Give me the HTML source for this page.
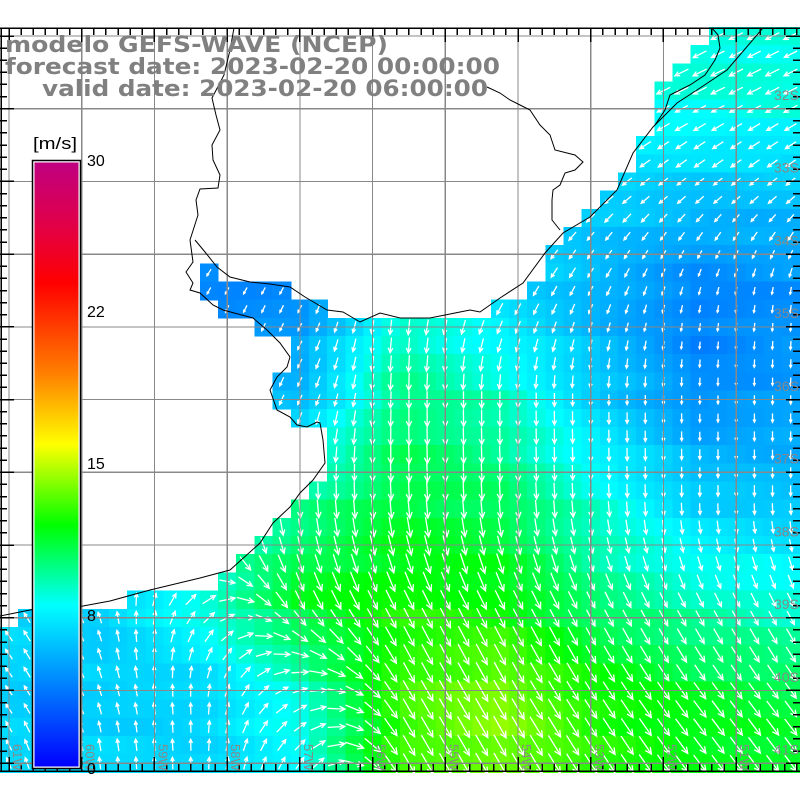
<!DOCTYPE html>
<html><head><meta charset="utf-8"><style>
html,body{margin:0;padding:0;background:#fff;}
svg{display:block}
</style></head><body>
<svg id="s" width="800" height="800" xmlns="http://www.w3.org/2000/svg">
<rect width="800" height="800" fill="#fff"/>
<g id="cells" shape-rendering="crispEdges"></g>
<g id="arrows" stroke="#fff" stroke-width="1.3" fill="none"></g>
<g id="grid" stroke="#888" stroke-width="1.2" shape-rendering="crispEdges"></g>
<g id="coast" stroke="#000" stroke-width="1" fill="none">
<polyline points="234,28 230,50 224,75 212,98 216,115 220,130 212,145 213,160 220,175 218,188 200,189 196,200 198,215 190,240 193,262 186,272 193,283 190,290 200,293 213,305 223,310 253,318 267,330 280,343 290,357 287,367 277,377 270,390 277,410 290,417 297,425 307,427 317,422 320,423 323,440 325,463 313,480 300,493 290,507 273,523 260,543 230,570 200,578 150,590 110,601 83,606 40,608 20,612 10,614 0,616"/>
<polyline points="195,240 205,252 217,267 230,277 250,282 270,284 290,287 305,297 327,310 343,312 360,322 380,313 400,318 430,318 450,314 470,310 480,312 500,298 523,283 545,253 563,233 590,217 617,190 633,153 653,127 677,103 700,88 727,70 763,28"/>
<polyline points="487,87 500,93 510,100 520,105 530,110 540,125 550,135 555,150 575,155 583,162 575,170 565,173 560,185 553,190 552,200 552,220 560,230"/>
<polyline points="655,125 665,110 670,95 690,85 705,75 715,60 720,48 718,35 712,28"/>
</g>
<g id="frame" stroke="#000" stroke-width="1.5" shape-rendering="crispEdges"></g>
<g id="labels" fill="#888" font-family="Liberation Sans, sans-serif" font-size="13"></g>
<defs>
<linearGradient id="cb" x1="0" y1="1" x2="0" y2="0">
<stop offset="0" stop-color="#0000ff"/>
<stop offset="0.2667" stop-color="#00ffff"/>
<stop offset="0.4" stop-color="#00ff00"/>
<stop offset="0.5333" stop-color="#ffff00"/>
<stop offset="0.65" stop-color="#ff8000"/>
<stop offset="0.8" stop-color="#ff0000"/>
<stop offset="0.9" stop-color="#e0004a"/>
<stop offset="1" stop-color="#c00080"/>
</linearGradient>
</defs>
<rect x="32.5" y="160.5" width="48" height="608" fill="#fff" stroke="#000" stroke-width="1.5"/>
<rect x="34.5" y="162.5" width="44" height="604" fill="url(#cb)"/>
<g font-family="Liberation Sans, sans-serif" font-size="16" fill="#000">
<text x="33" y="149" font-size="17" textLength="44" lengthAdjust="spacingAndGlyphs">[m/s]</text>
<text x="87" y="166">30</text>
<text x="87" y="317">22</text>
<text x="87" y="469">15</text>
<text x="87" y="621">8</text>
<text x="87" y="774">0</text>
</g>
<g font-family="DejaVu Sans, sans-serif" font-weight="bold" font-size="22" fill="#808080">
<text x="5" y="52" textLength="383" lengthAdjust="spacingAndGlyphs">modelo GEFS-WAVE (NCEP)</text>
<text x="5" y="74" textLength="495" lengthAdjust="spacingAndGlyphs">forecast date: 2023-02-20 00:00:00</text>
<text x="42" y="96" textLength="446" lengthAdjust="spacingAndGlyphs">valid date: 2023-02-20 06:00:00</text>
</g>
</svg>
<script>
(function(){
var NS="http://www.w3.org/2000/svg";
function el(p,t,a){var e=document.createElementNS(NS,t);for(var k in a)e.setAttribute(k,a[k]);p.appendChild(e);return e;}
var S=[
[8,8,8,8,8,8,8.5,8.5,8.5],
[8,8,8,8,8,8,8.5,8.5,8.5],
[6,6,6,6,6,7,6.5,6,6],
[4,4,4,4.5,8.5,7,5.5,4,4.5],
[6,6,6,6,10,9,6.5,4.5,5],
[8,8,8,9.5,11,10.5,8.5,6.5,6],
[7,6.5,8.5,11.5,12.3,12,10,9,8.5],
[6.5,6.5,6.5,8.5,13,14.2,12.5,11.5,11],
[7,7,7,7.5,13,13.5,12.5,12,11.5]];
function row(a){var r=[];for(var i=0;i<9;i++)r.push(a[i]||a[a.length-1]);return r;}
var A=[-0.9,0.45],B=[-0.75,0.65];
var D=[
row([A,A,A,A,A,A,A,A,A]),
row([A,A,A,A,A,A,A,A,A]),
row([B,B,B,B,B,B,B,B,B]),
[[-0.45,0.9],[-0.45,0.9],[-0.45,0.9],[-0.45,0.9],[-0.1,1],[-0.5,0.85],[-0.4,0.9],[-0.2,1],[-0.1,1]],
[[-0.4,0.9],[-0.4,0.9],[-0.4,0.9],[-0.4,0.9],[0,1],[0,1],[0,1],[0,1],[0,1]],
[[0.05,1],[0.05,1],[0.05,1],[0.05,1],[0.05,1],[0.05,1],[0.05,1],[0,1],[0,1]],
[[-0.6,-0.8],[-0.3,-0.95],[0.6,-0.5],[0.45,0.9],[0.45,0.9],[0.45,0.9],[0.45,0.9],[0.45,0.9],[0.45,0.9]],
[[-0.6,-0.8],[-0.3,-0.95],[0,-1],[0.9,-0.4],[0.5,0.87],[0.5,0.87],[0.55,0.85],[0.6,0.8],[0.6,0.8]],
[[-0.3,-0.95],[0,-1],[0,-1],[0.3,-0.95],[0.5,0.87],[0.5,0.87],[0.55,0.85],[0.6,0.8],[0.6,0.8]]];
function bil(G,x,y,f){var cx=Math.max(0,Math.min(7.999,x/100)),cy=Math.max(0,Math.min(7.999,y/100));
var i=Math.floor(cy),j=Math.floor(cx),fx=cx-j,fy=cy-i;
var a=f(G[i][j]),b=f(G[i][j+1]),c=f(G[i+1][j]),d=f(G[i+1][j+1]);
return (a*(1-fx)+b*fx)*(1-fy)+(c*(1-fx)+d*fx)*fy;}
var stops=[[0,[0,0,255]],[8,[0,255,255]],[12,[0,255,0]],[16,[255,255,0]],[19.5,[255,128,0]],[24,[255,0,0]],[27,[224,0,74]],[30,[192,0,128]]];
function col(v){for(var k=0;k<stops.length-1;k++){var a=stops[k],b=stops[k+1];if(v<=b[0]){var t=Math.max(0,(v-a[0])/(b[0]-a[0]));
return "rgb("+[0,1,2].map(function(q){return Math.round(a[1][q]+(b[1][q]-a[1][q])*t)}).join(",")+")";}}return "rgb(192,0,128)";}
var left=[708,690,672,655,655,655,636,636,618,600,582,563,544];
function ocean(i,xc){
 if(i<=12)return xc>=left[i];
 if(i==13)return (xc>=200&&xc<=218)||xc>=544;
 if(i==14)return (xc>=200&&xc<=290)||xc>=527;
 if(i==15)return (xc>=218&&xc<=327)||xc>=492;
 var L={16:255,17:290,18:290,19:273,20:273,21:290,22:327,23:327,24:327,25:309,26:290,27:273,28:255,29:237,30:218,31:127,32:18};
 if(L[i]!==undefined)return xc>=L[i];
 return true;}
var W=18.18,cg=document.getElementById("cells"),ag=document.getElementById("arrows");
var pathd="";
for(var i=0;i<41;i++){var y0=27+W*i,yc=y0+W/2;
 for(var j=0;j<44;j++){var x0=-0.1+W*j,xc=x0+W/2;
  if(!ocean(i,xc))continue;
  var s=bil(S,xc,yc,function(v){return v;});
  s+=0.35*Math.sin(xc*0.37+yc*0.21)*Math.cos(yc*0.29);
  el(cg,"rect",{x:x0.toFixed(1),y:y0.toFixed(1),width:(W+0.6).toFixed(1),height:(W+0.6).toFixed(1),fill:col(s)});
  var ux=bil(D,xc,yc,function(v){return v[0];}),uy=bil(D,xc,yc,function(v){return v[1];});
  var n=Math.sqrt(ux*ux+uy*uy);if(n<0.05){ux=1;uy=0;}else{ux/=n;uy/=n;}
  var L2=1.75*s/2,hx=xc+ux*L2,hy=yc+uy*L2,tx=xc-ux*L2,ty=yc-uy*L2;
  var hl=Math.min(0.35*L2*2,7),ca=Math.cos(0.45),sa=Math.sin(0.45);
  var b1x=hx-hl*(ux*ca-uy*sa),b1y=hy-hl*(uy*ca+ux*sa),b2x=hx-hl*(ux*ca+uy*sa),b2y=hy-hl*(uy*ca-ux*sa);
  pathd+="M"+tx.toFixed(1)+" "+ty.toFixed(1)+"L"+hx.toFixed(1)+" "+hy.toFixed(1)+"M"+b1x.toFixed(1)+" "+b1y.toFixed(1)+"L"+hx.toFixed(1)+" "+hy.toFixed(1)+"L"+b2x.toFixed(1)+" "+b2y.toFixed(1);
 }}
el(ag,"path",{d:pathd});
var gg=document.getElementById("grid"),GS=72.72;
for(var k=0;k<11;k++){var x=9+GS*k;el(gg,"line",{x1:x,y1:28,x2:x,y2:771});var y=36+GS*k;if(y<771)el(gg,"line",{x1:0,y1:y,x2:800,y2:y});}
var fg=document.getElementById("frame");
el(fg,"line",{x1:0,y1:28,x2:800,y2:28});el(fg,"line",{x1:0,y1:771,x2:800,y2:771});el(fg,"line",{x1:1,y1:28,x2:1,y2:771});
for(var m=-1;m<70;m++){var x=9+GS/6*m;if(x<0||x>800)continue;var big=(m%6==0);var l=big?14:7;
 el(fg,"line",{x1:x,y1:28,x2:x,y2:28+l});el(fg,"line",{x1:x,y1:771,x2:x,y2:771-l});}
for(var m=-1;m<70;m++){var y=36+GS/6*m;if(y<28||y>771)continue;var big=(m%6==0);var l=big?14:7;
 el(fg,"line",{x1:0,y1:y,x2:l,y2:y});el(fg,"line",{x1:800,y1:y,x2:800-l,y2:y});}
var lg=document.getElementById("labels");
for(var k=0;k<10;k++){var t=el(lg,"text",{x:774,y:100+72.72*k,"font-size":"14"});t.textContent=(32+k)+"S";}
for(var k=0;k<11;k++){var x=13+GS*k;var t=el(lg,"text",{transform:"translate("+x+",744) rotate(90)","font-size":"13"});t.textContent=(61-k)+"W";}
})();
</script>
</body></html>
